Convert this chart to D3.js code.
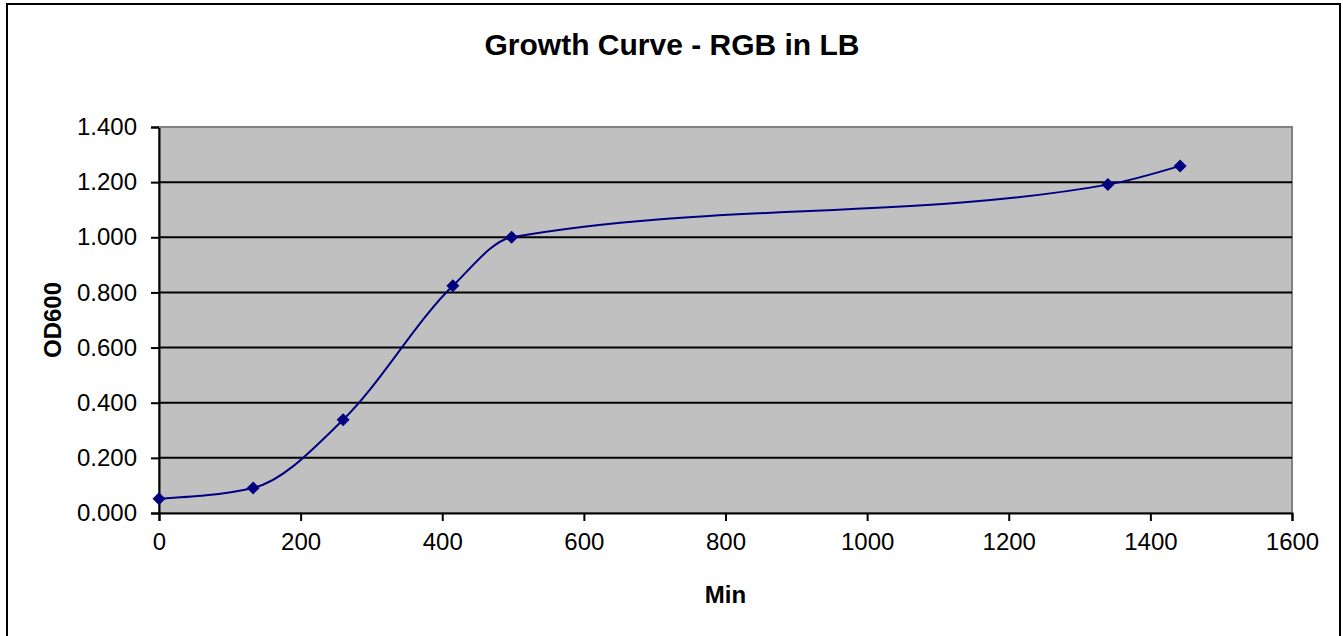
<!DOCTYPE html>
<html>
<head>
<meta charset="utf-8">
<script src="https://cdn.jsdelivr.net/npm/d3@7"></script>
<style>
  body { margin: 0; background: #fff; }
  svg { display: block; font-family: "Liberation Sans", Arial, sans-serif; }
</style>
</head>
<body>
<div id="chart"></div>
<script>
// data
const minutes = [0, 133, 260, 415, 498, 1340, 1442];
const od600 = [0.052, 0.091, 0.338, 0.824, 1.000, 1.191, 1.259];
const xTicks = [0, 200, 400, 600, 800, 1000, 1200, 1400, 1600];
const yTicks = [0, 0.2, 0.4, 0.6, 0.8, 1.0, 1.2, 1.4];

const points = minutes.map((m, i) => ({ x: m, y: od600[i] }));

const W = 1343, H = 636;
const plot = { left: 159, top: 127, right: 1292, bottom: 513 };

const svg = d3.select('#chart').append('svg')
  .attr('width', W)
  .attr('height', H);

// outer chart frame
svg.append('rect')
  .attr('x', 7).attr('y', 4)
  .attr('width', 1333).attr('height', 640)
  .attr('fill', '#fff')
  .attr('stroke', '#000')
  .attr('stroke-width', 2);

let x = d3.scaleLinear().domain([0, 1600]).range([plot.left, plot.right]);
let y = d3.scaleLinear().domain([0, 1.4]).range([plot.bottom, plot.top]);

// plot area
svg.append('rect')
  .attr('x', plot.left).attr('y', plot.top)
  .attr('width', plot.right - plot.left)
  .attr('height', plot.bottom - plot.top)
  .attr('fill', '#c0c0c0')
  .attr('stroke', '#808080')
  .attr('stroke-width', 2);

// gridlines
svg.append('g')
  .selectAll('line')
  .data(yTicks.slice(1, -1))
  .enter().append('line')
  .attr('x1', plot.left).attr('x2', plot.right)
  .attr('y1', d => y(d)).attr('y2', d => y(d))
  .attr('stroke', '#000')
  .attr('stroke-width', 2);

// y axis
let yAxis = svg.append('g')
  .attr('transform', 'translate(' + plot.left + ',0)')
  .call(d3.axisLeft(y).tickValues(yTicks).tickFormat(d3.format('.3f')).tickSize(8).tickPadding(14));

// x axis
let xAxis = svg.append('g')
  .attr('transform', 'translate(0,' + plot.bottom + ')')
  .call(d3.axisBottom(x).tickValues(xTicks).tickFormat(d3.format('d')).tickSize(8).tickPadding(12));

[xAxis, yAxis].forEach(ax => {
  ax.select('.domain').attr('stroke', '#000').attr('stroke-width', 2);
  ax.selectAll('.tick line').attr('stroke', '#000').attr('stroke-width', 2);
  ax.selectAll('.tick text')
    .attr('fill', '#000')
    .style('font-size', '24px')
    .style('font-family', '"Liberation Sans", Arial, sans-serif');
});
// plot border drawn over the axis domains on top/right
svg.append('line')
  .attr('x1', plot.left).attr('x2', plot.right)
  .attr('y1', plot.top).attr('y2', plot.top)
  .attr('stroke', '#808080').attr('stroke-width', 2);

// smoothed series line
let line = d3.line()
  .x(d => x(d.x))
  .y(d => y(d.y))
  .curve(d3.curveMonotoneX);

svg.append('path')
  .datum(points)
  .attr('d', line)
  .attr('fill', 'none')
  .attr('stroke', '#000080')
  .attr('stroke-width', 2);

// diamond markers
svg.selectAll('.marker')
  .data(points)
  .enter().append('path')
  .attr('class', 'marker')
  .attr('transform', d => 'translate(' + x(d.x) + ',' + y(d.y) + ')')
  .attr('d', 'M0,-6.5L6.5,0L0,6.5L-6.5,0Z')
  .attr('fill', '#000080');

// titles
svg.append('text')
  .attr('x', 672).attr('y', 55)
  .attr('text-anchor', 'middle')
  .style('font-size', '30px')
  .style('font-weight', 'bold')
  .text('Growth Curve - RGB in LB');

svg.append('text')
  .attr('x', (plot.left + plot.right) / 2).attr('y', 603)
  .attr('text-anchor', 'middle')
  .style('font-size', '24px')
  .style('font-weight', 'bold')
  .text('Min');

svg.append('text')
  .attr('transform', 'translate(61,' + (plot.top + plot.bottom) / 2 + ') rotate(-90)')
  .attr('text-anchor', 'middle')
  .style('font-size', '24px')
  .style('font-weight', 'bold')
  .text('OD600');
</script>
</body>
</html>
